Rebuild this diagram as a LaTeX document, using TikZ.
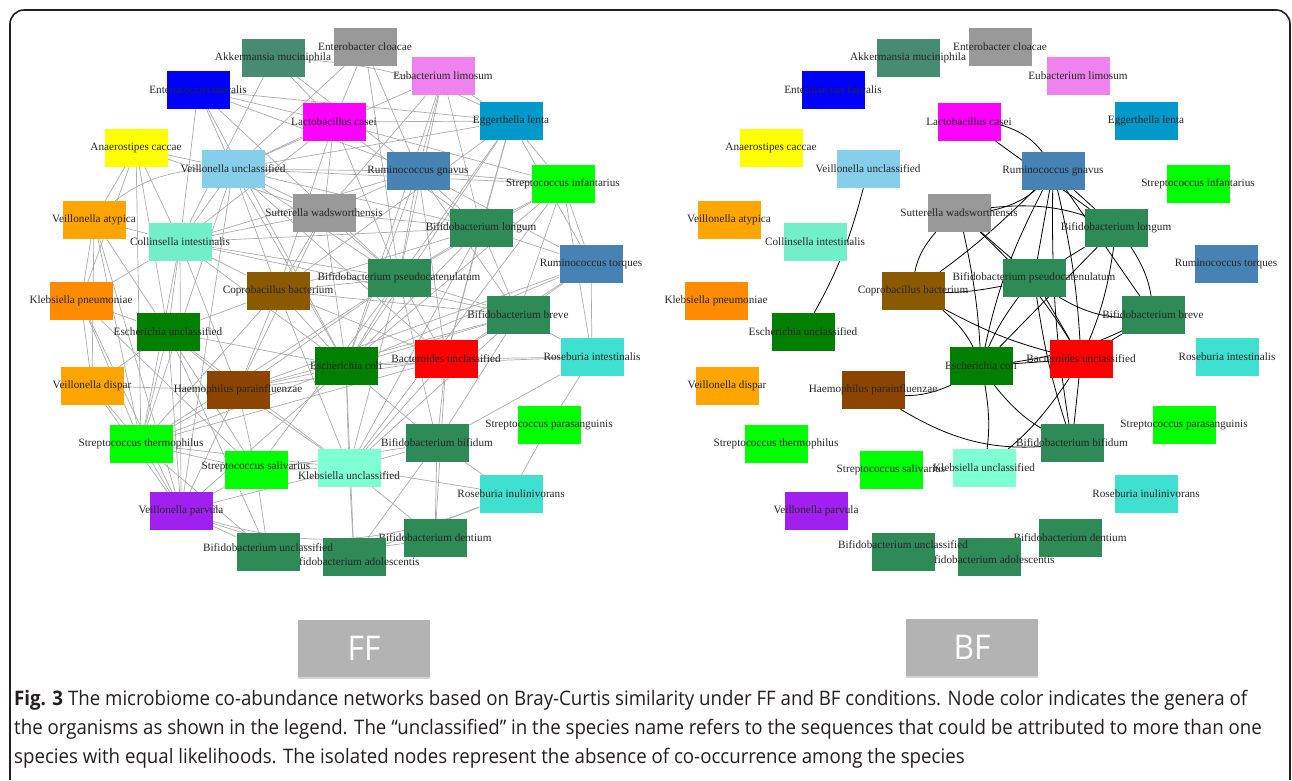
\documentclass[tikz,border=0pt]{standalone}
\usepackage{fontspec}
\setmainfont{Liberation Serif}
\newfontfamily\capfont[FakeStretch=0.934]{Open Sans}
\usepackage{tikz}
\usetikzlibrary{backgrounds, shadows}

\definecolor{akkc}{HTML}{478B73}
\definecolor{entcc}{HTML}{0000FF}
\definecolor{greyc}{HTML}{999999}
\definecolor{eubc}{HTML}{EE82EE}
\definecolor{lacc}{HTML}{FF00FF}
\definecolor{eggc}{HTML}{0099CC}
\definecolor{anac}{HTML}{FFFF00}
\definecolor{vunc}{HTML}{87CEEB}
\definecolor{rumc}{HTML}{4682B4}
\definecolor{strc}{HTML}{00FF00}
\definecolor{bifc}{HTML}{2E8B57}
\definecolor{vorc}{HTML}{FFA500}
\definecolor{colc}{HTML}{73EFC8}
\definecolor{kpnc}{HTML}{FF8C00}
\definecolor{escc}{HTML}{008000}
\definecolor{rosc}{HTML}{40E0D0}
\definecolor{bacc}{HTML}{FF0000}
\definecolor{copc}{HTML}{8B5A00}
\definecolor{haec}{HTML}{8B4500}
\definecolor{vparc}{HTML}{A020F0}
\definecolor{kunc}{HTML}{7FFFD4}
\definecolor{condc}{HTML}{B3B3B3}
\definecolor{inkc}{HTML}{231F20}

\tikzset{
  species/.style={rectangle, minimum width=63pt, minimum height=38pt, inner sep=0pt},
  every label/.style={font=\fontsize{11.2}{12}\selectfont, text=black!85, inner sep=0pt},
  ffedge/.style={draw=black!33, line width=0.7pt},
  bfedge/.style={draw=black, line width=0.8pt},
  condbox/.style={fill=condc, minimum width=132pt, minimum height=57pt, inner sep=0pt,
    text=white, font=\capfont\fontsize{34}{34}\selectfont,
    drop shadow={shadow xshift=0pt, shadow yshift=-2pt, opacity=.35}},
  captext/.style={anchor=base west, inner sep=0pt, text=inkc, font=\capfont\fontsize{20}{24}\selectfont},
  figframe/.style={draw=inkc, line width=1.6pt, rounded corners=14pt}
}

\begin{document}
\begin{tikzpicture}[x=1pt, y=-1pt]
\useasboundingbox (0,0) rectangle (1292,780);
\draw[figframe] (10,780) -- (10,10) -- (1290,10) -- (1290,780);

% FF network
\begin{scope}[name prefix=ff-]
\node[species, fill=akkc,  label=center:{Akkermansia muciniphila}]          (akk)  at (273,58)  {};
\node[species, fill=greyc, label=center:{Enterobacter cloacae}]             (entb) at (365,47)  {};
\node[species, fill=eubc,  label=center:{Eubacterium limosum}]              (eub)  at (443,76)  {};
\node[species, fill=entcc, label=center:{Enterococcus faecalis}]            (entc) at (198,90)  {};
\node[species, fill=lacc,  label=center:{Lactobacillus casei}]              (lac)  at (334,122) {};
\node[species, fill=eggc,  label=center:{Eggerthella lenta}]                (egg)  at (511,121) {};
\node[species, fill=anac,  label=center:{Anaerostipes caccae}]              (ana)  at (136,148) {};
\node[species, fill=vunc,  label=center:{Veillonella unclassified}]         (vun)  at (233,169) {};
\node[species, fill=rumc,  label=center:{Ruminococcus gnavus}]              (rgn)  at (418,171) {};
\node[species, fill=strc,  label=center:{Streptococcus infantarius}]        (sinf) at (563,184) {};
\node[species, fill=greyc, label=center:{Sutterella wadsworthensis}]        (sut)  at (324,213) {};
\node[species, fill=vorc,  label=center:{Veillonella atypica}]              (vat)  at (94,220)  {};
\node[species, fill=bifc,  label=center:{Bifidobacterium longum}]           (blon) at (481,228) {};
\node[species, fill=colc,  label=center:{Collinsella intestinalis}]         (col)  at (180,242) {};
\node[species, fill=rumc,  label=center:{Ruminococcus torques}]             (rtor) at (591,264) {};
\node[species, fill=bifc,  label=center:{Bifidobacterium pseudocatenulatum}] (bpse) at (399,278) {};
\node[species, fill=copc,  label=center:{Coprobacillus bacterium}]          (cop)  at (278,291) {};
\node[species, fill=kpnc,  label=center:{Klebsiella pneumoniae}]            (kpn)  at (81,301)  {};
\node[species, fill=bifc,  label=center:{Bifidobacterium breve}]            (bbre) at (518,315) {};
\node[species, fill=escc,  label=center:{Escherichia unclassified}]         (eun)  at (168,332) {};
\node[species, fill=rosc,  label=center:{Roseburia intestinalis}]           (rint) at (592,357) {};
\node[species, fill=bacc,  label=center:{Bacteroides unclassified}]         (bac)  at (446,359) {};
\node[species, fill=escc,  label=center:{Escherichia coli}]                 (eco)  at (346,366) {};
\node[species, fill=vorc,  label=center:{Veillonella dispar}]               (vdi)  at (92,386)  {};
\node[species, fill=haec,  label=center:{Haemophilus parainfluenzae}]       (hae)  at (238,390) {};
\node[species, fill=strc,  label=center:{Streptococcus parasanguinis}]      (spar) at (549,425) {};
\node[species, fill=bifc,  label=center:{Bifidobacterium bifidum}]          (bbif) at (437,443) {};
\node[species, fill=strc,  label=center:{Streptococcus thermophilus}]       (sth)  at (141,444) {};
\node[species, fill=strc,  label={[yshift=3pt]center:{Streptococcus salivarius}}] (ssal) at (256,470) {};
\node[species, fill=kunc,  label={[yshift=-8pt]center:{Klebsiella unclassified}}] (kun) at (349,468) {};
\node[species, fill=rosc,  label=center:{Roseburia inulinivorans}]          (rinu) at (511,494) {};
\node[species, fill=vparc, label=center:{Veillonella parvula}]              (vpa)  at (181,511) {};
\node[species, fill=bifc,  label=center:{Bifidobacterium dentium}]          (bden) at (435,538) {};
\node[species, fill=bifc,  label={[yshift=-5pt]center:{Bifidobacterium adolescentis}}] (bado) at (354,557) {};
\node[species, fill=bifc,  label={[yshift=4pt]center:{Bifidobacterium unclassified}}] (bun) at (268,552) {};
\begin{scope}[on background layer]
\path[ffedge] (akk)  edge (col) edge (rgn) edge (lac) edge[bend left=12] (egg);
\path[ffedge] (entb) edge (lac) edge (vun) edge (rgn) edge (bpse);
\path[ffedge] (eub)  edge (vun) edge (rgn) edge (bpse) edge (blon) edge (sut) edge (egg) edge (eco);
\path[ffedge] (egg)  edge (lac) edge (vun) edge (sinf) edge (blon) edge (bpse) edge (eco) edge (cop) edge (rtor) edge (bac);
\path[ffedge] (entc) edge (lac) edge (rgn) edge (vun) edge (col) edge (bpse) edge (eco) edge (egg);
\path[ffedge] (lac)  edge (vun) edge (col) edge (sut) edge (bpse) edge (blon) edge (sinf) edge (cop);
\path[ffedge] (ana)  edge (vun) edge (sut) edge (vat) edge (col) edge (eun) edge (sth) edge (kpn);
\path[ffedge] (vun)  edge (sut) edge (rgn) edge (blon) edge (bpse) edge (eco) edge (cop) edge (sinf) edge (sth) edge (vpa) edge (bac) edge[bend right=20] (vat) edge (col);
\path[ffedge] (rgn)  edge (sinf) edge (blon) edge (bpse) edge (col) edge (bac) edge (rtor) edge (bbre) edge (eco) edge (sut);
\path[ffedge] (sinf) edge (blon) edge (bpse) edge (rtor) edge (eco) edge (bbre) edge (rint) edge (kun);
\path[ffedge] (sut)  edge (col) edge (cop) edge (bpse) edge (eco) edge (blon) edge (hae);
\path[ffedge] (blon) edge (bpse) edge (bbre) edge (rtor) edge (bac) edge (eco) edge (cop) edge (col) edge (kun);
\path[ffedge] (vat)  edge (col) edge (kpn) edge (sth) edge (eun) edge (vpa) edge (vdi);
\path[ffedge] (col)  edge (kpn) edge (eun) edge (sth) edge (vpa) edge (cop) edge (bpse) edge (eco) edge (hae) edge (bbre);
\path[ffedge] (rtor) edge (bbre) edge (rint) edge (bac) edge (eco) edge (hae);
\path[ffedge] (bpse) edge (cop) edge (eco) edge (bac) edge (bbre) edge (kun) edge (bbif) edge (hae) edge (sth) edge (ssal);
\path[ffedge] (cop)  edge (eun) edge (hae) edge (eco) edge (bac) edge (bbre) edge (kun) edge (sth);
\path[ffedge] (kpn)  edge (eun) edge (vdi) edge (sth) edge (vpa) edge (ssal);
\path[ffedge] (bbre) edge (bac) edge (rint) edge (eco) edge (bbif) edge (kun) edge (hae);
\path[ffedge] (eun)  edge (sth) edge (vpa) edge (vdi) edge (hae) edge (ssal) edge (eco) edge (kun) edge (bun);
\path[ffedge] (rint) edge (bac) edge (spar) edge (eco) edge (bbif);
\path[ffedge] (bac)  edge (eco) edge (bbif) edge (kun) edge (hae) edge (bden) edge (sth);
\path[ffedge] (eco)  edge (hae) edge (kun) edge (bbif) edge (sth) edge (vpa) edge (bado);
\path[ffedge] (vdi)  edge (sth) edge (vpa) edge (hae);
\path[ffedge] (hae)  edge (sth) edge (vpa) edge (ssal) edge (kun);
\path[ffedge] (spar) edge (rinu);
\path[ffedge] (bbif) edge (kun) edge (rinu) edge (bden) edge (ssal) edge (bado);
\path[ffedge] (sth)  edge (vpa) edge (ssal) edge (kun) edge (bun);
\path[ffedge] (ssal) edge (vpa) edge (kun) edge (bun);
\path[ffedge] (kun)  edge (vpa) edge (rinu) edge (bden) edge (bado);
\path[ffedge] (rinu) edge[bend left=20] (vpa) edge (bado);
\path[ffedge] (vpa)  edge[bend right=15] (bden) edge (bun);
\end{scope}
\end{scope}

% BF network
\begin{scope}[name prefix=bf-, xshift=635pt]
\node[species, fill=akkc,  label=center:{Akkermansia muciniphila}]          (akk)  at (273,58)  {};
\node[species, fill=greyc, label=center:{Enterobacter cloacae}]             (entb) at (365,47)  {};
\node[species, fill=eubc,  label=center:{Eubacterium limosum}]              (eub)  at (443,76)  {};
\node[species, fill=entcc, label=center:{Enterococcus faecalis}]            (entc) at (198,90)  {};
\node[species, fill=lacc,  label=center:{Lactobacillus casei}]              (lac)  at (334,122) {};
\node[species, fill=eggc,  label=center:{Eggerthella lenta}]                (egg)  at (511,121) {};
\node[species, fill=anac,  label=center:{Anaerostipes caccae}]              (ana)  at (136,148) {};
\node[species, fill=vunc,  label=center:{Veillonella unclassified}]         (vun)  at (233,169) {};
\node[species, fill=rumc,  label=center:{Ruminococcus gnavus}]              (rgn)  at (418,171) {};
\node[species, fill=strc,  label=center:{Streptococcus infantarius}]        (sinf) at (563,184) {};
\node[species, fill=greyc, label=center:{Sutterella wadsworthensis}]        (sut)  at (324,213) {};
\node[species, fill=vorc,  label=center:{Veillonella atypica}]              (vat)  at (94,220)  {};
\node[species, fill=bifc,  label=center:{Bifidobacterium longum}]           (blon) at (481,228) {};
\node[species, fill=colc,  label=center:{Collinsella intestinalis}]         (col)  at (180,242) {};
\node[species, fill=rumc,  label=center:{Ruminococcus torques}]             (rtor) at (591,264) {};
\node[species, fill=bifc,  label=center:{Bifidobacterium pseudocatenulatum}] (bpse) at (399,278) {};
\node[species, fill=copc,  label=center:{Coprobacillus bacterium}]          (cop)  at (278,291) {};
\node[species, fill=kpnc,  label=center:{Klebsiella pneumoniae}]            (kpn)  at (81,301)  {};
\node[species, fill=bifc,  label=center:{Bifidobacterium breve}]            (bbre) at (518,315) {};
\node[species, fill=escc,  label=center:{Escherichia unclassified}]         (eun)  at (168,332) {};
\node[species, fill=rosc,  label=center:{Roseburia intestinalis}]           (rint) at (592,357) {};
\node[species, fill=bacc,  label=center:{Bacteroides unclassified}]         (bac)  at (446,359) {};
\node[species, fill=escc,  label=center:{Escherichia coli}]                 (eco)  at (346,366) {};
\node[species, fill=vorc,  label=center:{Veillonella dispar}]               (vdi)  at (92,386)  {};
\node[species, fill=haec,  label=center:{Haemophilus parainfluenzae}]       (hae)  at (238,390) {};
\node[species, fill=strc,  label=center:{Streptococcus parasanguinis}]      (spar) at (549,425) {};
\node[species, fill=bifc,  label=center:{Bifidobacterium bifidum}]          (bbif) at (437,443) {};
\node[species, fill=strc,  label=center:{Streptococcus thermophilus}]       (sth)  at (141,444) {};
\node[species, fill=strc,  label=center:{Streptococcus salivarius}]         (ssal) at (256,470) {};
\node[species, fill=kunc,  label=center:{Klebsiella unclassified}]          (kun)  at (349,468) {};
\node[species, fill=rosc,  label=center:{Roseburia inulinivorans}]          (rinu) at (511,494) {};
\node[species, fill=vparc, label=center:{Veillonella parvula}]              (vpa)  at (181,511) {};
\node[species, fill=bifc,  label=center:{Bifidobacterium dentium}]          (bden) at (435,538) {};
\node[species, fill=bifc,  label={[yshift=-3pt]center:{Bifidobacterium adolescentis}}] (bado) at (354,557) {};
\node[species, fill=bifc,  label={[yshift=7pt]center:{Bifidobacterium unclassified}}] (bun) at (268,552) {};
\begin{scope}[on background layer]
\path[bfedge] (vun)  edge[bend left=8]   (eun);
\path[bfedge] (lac)  edge[bend left=25]  (rgn);
\path[bfedge] (lac)  edge                (blon);
\path[bfedge] (sut)  edge[bend right=20] (rgn);
\path[bfedge] (sut)  edge[bend left=15]  (blon);
\path[bfedge] (sut)  edge[bend right=20] (cop);
\path[bfedge] (sut)  edge[bend left=5]   (eco);
\path[bfedge] (sut)  edge                (bpse);
\path[bfedge] (sut)  edge[bend left=8]   (bac);
\path[bfedge] (rgn)  edge[bend left=5]   (cop);
\path[bfedge] (rgn)  edge                (bpse);
\path[bfedge] (rgn)  edge[bend right=8]  (eco);
\path[bfedge] (rgn)  edge[bend left=5]   (bac);
\path[bfedge] (rgn)  edge                (blon);
\path[bfedge] (rgn)  edge                (bbre);
\path[bfedge] (rgn)  edge[bend right=5]  (bbif);
\path[bfedge] (blon) edge                (bpse);
\path[bfedge] (blon) edge                (eco);
\path[bfedge] (blon) edge[bend left=8]   (bac);
\path[bfedge] (blon) edge[bend left=15]  (bbre);
\path[bfedge] (bpse) edge[bend left=8]   (cop);
\path[bfedge] (bpse) edge[bend right=8]  (eco);
\path[bfedge] (bpse) edge                (bac);
\path[bfedge] (bpse) edge[bend right=20] (bbre);
\path[bfedge] (bpse) edge[bend right=5]  (bbif);
\path[bfedge] (cop)  edge[bend right=8]  (bac);
\path[bfedge] (cop)  edge[bend left=15]  (eco);
\path[bfedge] (eco)  edge                (bac);
\path[bfedge] (eco)  edge[bend right=10] (bbre);
\path[bfedge] (eco)  edge[bend left=20]  (hae);
\path[bfedge] (eco)  edge[bend right=15] (bbif);
\path[bfedge] (eco)  edge[bend left=10]  (kun);
\path[bfedge] (hae)  edge[bend right=20] (bbif);
\path[bfedge] (bac)  edge                (bbre);
\path[bfedge] (bac)  edge                (bbif);
\path[bfedge] (bac)  edge[bend left=10]  (kun);
\end{scope}
\end{scope}

% condition tags and caption
\node[condbox] (fftag) at (364,648) {FF};
\node[condbox] (bftag) at (972,647) {BF};
\node[captext] (cap1) at (14,705) {\textbf{Fig. 3} The microbiome co-abundance networks based on Bray-Curtis similarity under FF and BF conditions. Node color indicates the genera of};
\node[captext] (cap2) at (14,734) {the organisms as shown in the legend. The “unclassified” in the species name refers to the sequences that could be attributed to more than one};
\node[captext] (cap3) at (14,763) {species with equal likelihoods. The isolated nodes represent the absence of co-occurrence among the species};
\end{tikzpicture}
\end{document}
